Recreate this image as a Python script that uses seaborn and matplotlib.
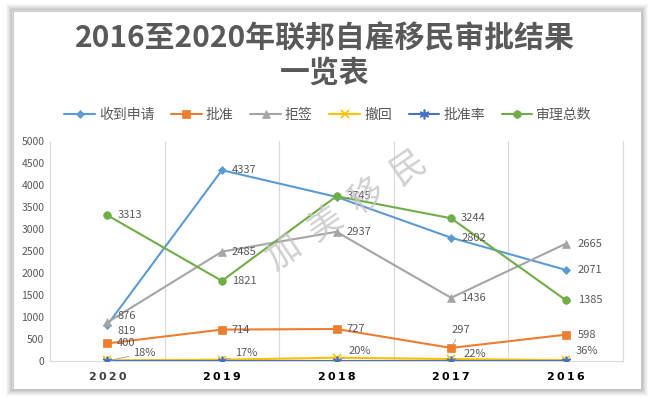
import numpy as np
import pandas as pd
import matplotlib
matplotlib.use("Agg")
import matplotlib.pyplot as plt
import seaborn as sns
from matplotlib.patches import Rectangle

# ---- data ----
years = ["2020", "2019", "2018", "2017", "2016"]
received = [819, 4337, 3730, 2802, 2071]
approved = [400, 714, 727, 297, 598]
refused = [876, 2485, 2937, 1436, 2665]
withdrawn = [15, 30, 75, 45, 20]
approval_rate = [0.18, 0.17, 0.20, 0.22, 0.36]
total_processed = [3313, 1821, 3745, 3244, 1385]
rate_labels = ["18%", "17%", "20%", "22%", "36%"]

series_names = ["收到申请", "批准", "拒签", "撤回", "批准率", "审理总数"]
series_vals = [received, approved, refused, withdrawn, approval_rate, total_processed]
colors = ["#5B9BD5", "#ED7D31", "#A5A5A5", "#FFC000", "#4472C4", "#70AD47"]
markers = ["D", "s", "^", "x", (6, 2, 0), "o"]
msizes = [4, 5.5, 5.5, 6, 7, 5.5]

sns.set_theme(style="white")
plt.rcParams["font.family"] = ["Noto Sans CJK SC", "DejaVu Sans"]

TXT = "#595959"
fig = plt.figure(figsize=(6.5, 3.98), dpi=100)
W, H = 650, 398

# frame with soft shadow
for i, a in enumerate([0.05, 0.09, 0.14, 0.2, 0.27, 0.34]):
    d = 6 - i
    fig.patches.append(Rectangle(((13 - d) / W, (H - 389 - d) / H), (628 + 2 * d) / W, (378 + 2 * d) / H,
                                 transform=fig.transFigure, facecolor="none",
                                 edgecolor=(0.5, 0.5, 0.5, a), linewidth=1.2, zorder=0))
fig.patches.append(Rectangle((13 / W, (H - 389) / H), 628 / W, 378 / H, transform=fig.transFigure,
                             facecolor="white", edgecolor="#BFBFBF", linewidth=0.6, zorder=1))

ax = fig.add_axes([50 / W, (H - 361) / H, (623 - 50) / W, (361 - 141) / H])
ax.set_facecolor("none")
ax.set_zorder(2)

xs = list(range(len(years)))
for name, vals, c, m, ms in zip(series_names, series_vals, colors, markers, msizes):
    df = pd.DataFrame({"x": xs, "y": vals})
    sns.lineplot(data=df, x="x", y="y", ax=ax, color=c, marker=m, markersize=ms,
                 markeredgecolor=c, markeredgewidth=1.2 if m in ("x",) or isinstance(m, tuple) else 0.5,
                 linewidth=1.5, label=name, sort=False, legend=False, zorder=3)

ax.set_xlim(-0.5, len(years) - 0.5)
ax.set_ylim(0, 5000)
ax.set_yticks(np.arange(0, 5001, 500))
ax.set_yticklabels([str(v) for v in range(0, 5001, 500)], fontsize=7.5, color=TXT)
ax.set_xticks(xs)
ax.set_xticklabels(["\u2009".join(y) for y in years], fontsize=8, fontweight="bold",
                   family=["DejaVu Sans"])
for i, t in enumerate(ax.get_xticklabels()):
    t.set_color("#404040" if i == 0 else "#000000")
ax.set_xticks(np.arange(0.5, len(years) - 1, 1), minor=True)
ax.grid(False)
ax.grid(True, which="minor", axis="x", color="#D9D9D9", linewidth=0.8)
ax.tick_params(axis="both", which="both", length=0, pad=4)
ax.tick_params(axis="x", pad=8)
ax.set_xlabel("")
ax.set_ylabel("")
for s in ["left", "right", "bottom"]:
    ax.spines[s].set_color("#D9D9D9")
    ax.spines[s].set_linewidth(0.8)
ax.spines["top"].set_visible(False)

PX = 0.72  # points per pixel


def lab(x, y, text, dx, dy, ha="left", leader=False, fs=8):
    kw = dict(textcoords="offset points", xytext=(dx * PX, dy * PX), ha=ha, va="center",
              fontsize=fs, color=TXT, zorder=5)
    if leader:
        kw["arrowprops"] = dict(arrowstyle="-", color="#A6A6A6", lw=0.7, shrinkA=1, shrinkB=3)
    ax.annotate(text, (x, y), **kw)


# value labels
for i in xs:
    if i != 2:
        lab(i, received[i], str(received[i]), 10 if i < 4 else 12, -6 if i == 0 else 0)
    lab(i, total_processed[i], str(total_processed[i]), 10 if i < 4 else 12, 0)
    lab(i, refused[i], str(refused[i]), 10 if i < 4 else 12, 6 if i == 0 else 0)
    if i == 3:
        lab(i, approved[i], str(approved[i]), 10, 18, ha="center", leader=True)
    else:
        lab(i, approved[i], str(approved[i]), 10 if i < 4 else 12, 0)
rate_off = [(26, 8), (13, 8), (12, 10), (12, 7), (10, 10)]
for i in xs:
    dx, dy = rate_off[i]
    lab(i, approval_rate[i], rate_labels[i], dx, dy, leader=(i < 4))

# legend
handles, labels = ax.get_legend_handles_labels()
fig.legend(handles, labels, loc="center", bbox_to_anchor=(328 / W, (H - 115) / H), ncol=6,
           frameon=False, fontsize=10, handlelength=2.2, columnspacing=1.2, handletextpad=0.3,
           labelcolor=TXT)

# title
fig.text(0.5, (H - 38) / H, "2016至2020年联邦自雇移民审批结果", ha="center", va="center",
         fontsize=21.5, fontweight="bold", color=TXT)
fig.text(0.5, (H - 73) / H, "一览表", ha="center", va="center",
         fontsize=21.5, fontweight="bold", color=TXT)

# watermark
fig.text(347 / W, (H - 210) / H, "加  美  移  民", ha="center", va="center", rotation=34,
         fontsize=25, color="#C4C4C4", alpha=0.8, fontweight="light", zorder=10)

fig.savefig("out.png", dpi=100)
